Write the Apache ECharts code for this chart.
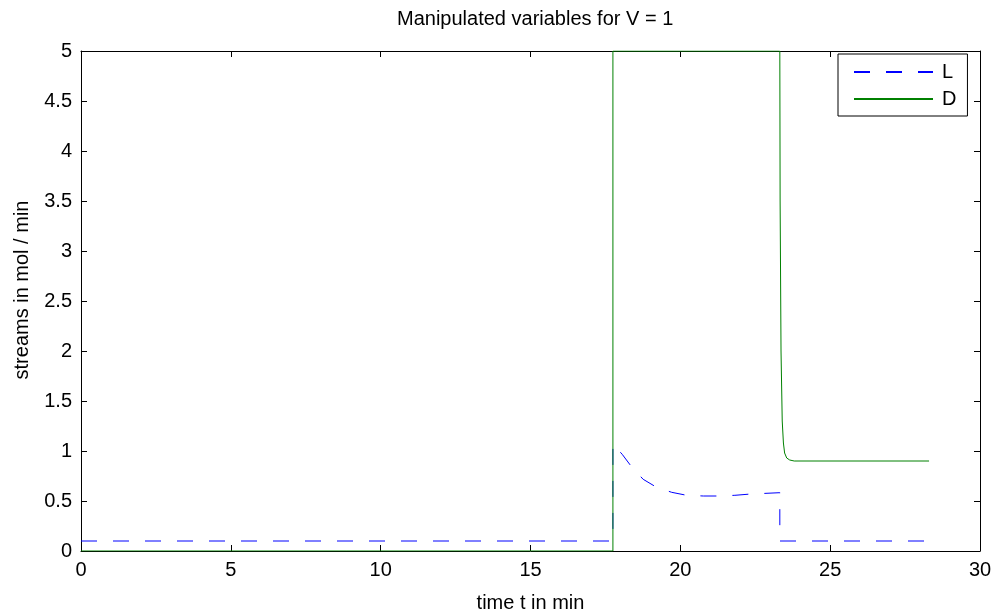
<!DOCTYPE html>
<html>
<head>
<meta charset="utf-8">
<script src="https://cdn.jsdelivr.net/npm/echarts@6/dist/echarts.min.js"></script>
<style>html,body{margin:0;padding:0;background:#fff}#c{width:996px;height:613px}</style>
</head>
<body>
<div id="c"></div>
<script>
var titleText = 'Manipulated variables for V = 1';
var xName = 'time t in min';
var yName = 'streams in mol / min';
var seriesNames = ['L', 'D'];

var tL = [0, 17.75, 17.75, 18.06, 18.37, 18.76, 19.19, 19.71, 20.21, 20.77, 21.27, 21.82, 22.36, 23.32, 23.32, 28.3];
var yL = [0.1, 0.1, 1.07, 0.967, 0.843, 0.717, 0.64, 0.587, 0.557, 0.55, 0.55, 0.557, 0.57, 0.583, 0.1, 0.1];

var tD = [0, 17.75, 17.75, 23.32, 23.33, 23.36, 23.40, 23.44, 23.48, 23.55, 23.65, 23.8, 28.3];
var yD = [0, 0, 5, 5, 3.5, 2.0, 1.3, 1.08, 0.98, 0.93, 0.91, 0.9, 0.9];

function pairs(xs, ys) { return xs.map(function (x, i) { return [x, ys[i]]; }); }

var chart = echarts.init(document.getElementById('c'));
var font = 'Liberation Sans, Arial, sans-serif';
var fs = 20;
var axisCommon = {
  axisLine: { show: true, onZero: false, lineStyle: { color: '#000', width: 1 } },
  axisTick: { show: true, inside: true, length: 6, lineStyle: { color: '#000' } },
  splitLine: { show: false }
};
chart.setOption({
  animation: false,
  backgroundColor: '#fff',
  title: { text: titleText, left: 392, top: 4, textStyle: { fontFamily: font, fontSize: fs, fontWeight: 'normal', color: '#000' } },
  grid: { left: 81, right: 16, top: 51, bottom: 62, containLabel: false, outerBoundsMode: 'none' },
  legend: {
    orient: 'vertical', left: 838, top: 54,
    data: seriesNames,
    backgroundColor: '#fff', borderColor: '#000', borderWidth: 1, borderRadius: 0,
    padding: [8, 11, 7, 15],
    itemWidth: 79, itemHeight: 14, itemGap: 7,
    itemStyle: { opacity: 0, borderWidth: 0 },
    textStyle: { fontFamily: font, fontSize: fs, color: '#000', padding: [0, 0, 0, 4] }
  },
  xAxis: [
    Object.assign({ type: 'value', min: 0, max: 30, interval: 5, position: 'bottom',
      name: xName, nameLocation: 'middle', nameGap: 42,
      nameTextStyle: { fontFamily: font, fontSize: fs, color: '#000' },
      axisLabel: { fontFamily: font, fontSize: fs, color: '#000', margin: 9 } }, axisCommon),
    Object.assign({ type: 'value', min: 0, max: 30, interval: 5, position: 'top', axisLabel: { show: false } }, axisCommon)
  ],
  yAxis: [
    Object.assign({ type: 'value', min: 0, max: 5, interval: 0.5, position: 'left',
      name: yName, nameLocation: 'middle', nameGap: 49,
      nameTextStyle: { fontFamily: font, fontSize: fs, color: '#000', padding: [0, 0, 0, 22] },
      axisLabel: { fontFamily: font, fontSize: fs, color: '#000', margin: 9 } }, axisCommon),
    Object.assign({ type: 'value', min: 0, max: 5, interval: 0.5, position: 'right', axisLabel: { show: false } }, axisCommon)
  ],
  series: [
    { name: 'L', type: 'line', data: pairs(tL, yL), showSymbol: false, symbol: 'none',
      lineStyle: { color: '#0000ff', width: 1, type: [16, 16] }, itemStyle: { color: '#0000ff' } },
    { name: 'D', type: 'line', data: pairs(tD, yD), showSymbol: false, symbol: 'none', smooth: false,
      lineStyle: { color: '#008000', width: 1 }, itemStyle: { color: '#008000' } }
  ]
});
</script>
</body>
</html>
